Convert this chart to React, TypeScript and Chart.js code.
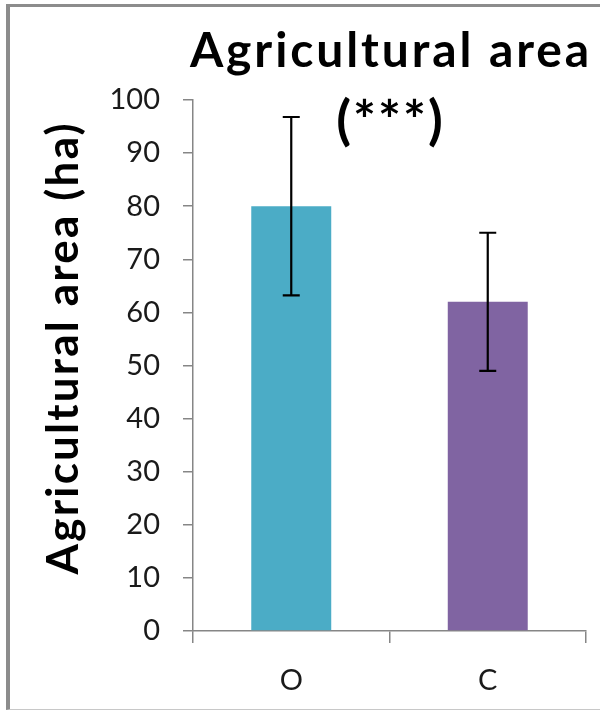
import React, { useEffect, useRef } from "react";
import { Chart, registerables } from "chart.js";

Chart.register(...registerables);

const categories = ["O", "C"];
const values = [80, 62];
const errors = [16.8, 13];
const barColors = ["#4BACC6", "#8064A2"];
const yMin = 0;
const yMax = 100;
const yStep = 10;
const titleLines = ["Agricultural area", "(***)"];
const yTitle = "Agricultural area (ha)";

const FONT = "Lato, 'Open Sans', sans-serif";

export default function App() {
  const ref = useRef<HTMLCanvasElement | null>(null);

  useEffect(() => {
    if (!ref.current) return;

    const errorBars = {
      id: "errorBars",
      afterDatasetsDraw(chart: any) {
        const ctx = chart.ctx;
        const meta = chart.getDatasetMeta(0);
        const ys = chart.scales.y;
        ctx.save();
        ctx.strokeStyle = "#000";
        ctx.lineWidth = 2.2;
        meta.data.forEach((el: any, i: number) => {
          const x = el.x;
          const top = ys.getPixelForValue(values[i] + errors[i]);
          const bot = ys.getPixelForValue(values[i] - errors[i]);
          const cap = 8.5;
          ctx.beginPath();
          ctx.moveTo(x, top);
          ctx.lineTo(x, bot);
          ctx.moveTo(x - cap, top);
          ctx.lineTo(x + cap, top);
          ctx.moveTo(x - cap, bot);
          ctx.lineTo(x + cap, bot);
          ctx.stroke();
        });
        ctx.restore();
      },
    };

    const texts = {
      id: "texts",
      afterDraw(chart: any) {
        const ctx = chart.ctx;
        const area = chart.chartArea;
        const cx = (area.left + area.right) / 2;
        ctx.save();
        ctx.fillStyle = "#000";
        ctx.textAlign = "center";
        ctx.textBaseline = "alphabetic";
        ctx.font = `bold 48px ${FONT}`;
        try { (ctx as any).letterSpacing = "2.9px"; } catch (e) {}
        ctx.fillText(titleLines[0], cx + 1.5, 67);
        ctx.font = `bold 54px ${FONT}`;
        try { (ctx as any).letterSpacing = "2px"; } catch (e) {}
        ctx.fillText(titleLines[1], cx + 1, 139);
        ctx.translate(78, 349);
        ctx.rotate(-Math.PI / 2);
        ctx.font = `bold 44px ${FONT}`;
        try { (ctx as any).letterSpacing = "2.2px"; } catch (e) {}
        ctx.fillText(yTitle, 1.1, 0);
        ctx.restore();
      },
    };

    const chart = new Chart(ref.current, {
      type: "bar",
      data: {
        labels: categories,
        datasets: [
          {
            data: values,
            backgroundColor: barColors,
            borderWidth: 0,
            barPercentage: 0.407,
            categoryPercentage: 1,
          },
        ],
      },
      options: {
        animation: false,
        responsive: false,
        maintainAspectRatio: false,
        devicePixelRatio: 1,
        layout: { padding: { top: 100, right: 14, bottom: 0, left: 0 } },
        plugins: {
          legend: { display: false },
          title: { display: false },
          tooltip: { enabled: false },
        },
        scales: {
          x: {
            afterFit: (s: any) => {
              s.height = 80;
            },
            grid: {
              display: true,
              drawOnChartArea: false,
              drawTicks: true,
              tickLength: 12,
              color: "#868686",
              lineWidth: 1.5,
            },
            border: { display: true, color: "#868686", width: 1.5 },
            ticks: {
              color: "#1a1a1a",
              font: { family: FONT, size: 29 },
              padding: 20,
            },
          },
          y: {
            min: yMin,
            max: yMax,
            afterFit: (s: any) => {
              s.width = 193;
            },
            grid: {
              display: true,
              drawOnChartArea: false,
              drawTicks: true,
              tickLength: 10,
              color: "#868686",
              lineWidth: 1.5,
            },
            border: { display: true, color: "#868686", width: 1.5 },
            ticks: {
              stepSize: yStep,
              color: "#1a1a1a",
              font: { family: FONT, size: 29 },
              padding: 23,
            },
          },
        },
      },
      plugins: [errorBars, texts],
    });

    return () => chart.destroy();
  }, []);

  return (
    <div
      style={{
        position: "fixed",
        left: 0,
        top: 0,
        width: 600,
        height: 711,
        overflow: "hidden",
        background: "#fff",
      }}
    >
      <div
        style={{
          position: "absolute",
          left: 6,
          top: 4,
          width: 700,
          height: 706,
          boxSizing: "border-box",
          borderLeft: "4px solid #8c8c8c",
          borderTop: "3px solid #8c8c8c",
          borderBottom: "1px solid #c8c8c8",
        }}
      />
      <canvas
        ref={ref}
        width={600}
        height={711}
        style={{ position: "absolute", left: 0, top: 0, width: 600, height: 711 }}
      />
    </div>
  );
}
